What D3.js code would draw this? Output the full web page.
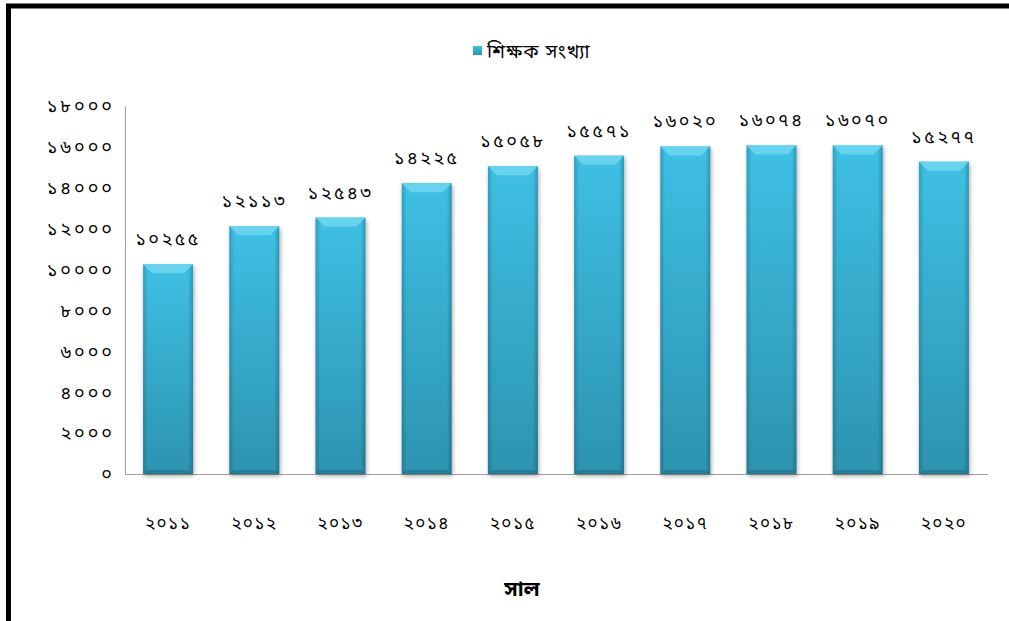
<!DOCTYPE html>
<html><head><meta charset="utf-8">
<script src="https://cdn.jsdelivr.net/npm/d3@7"></script>
<style>
html,body{margin:0;padding:0;background:#fff;}
svg{display:block;font-family:"Noto Sans Bengali","Noto Sans","Lohit Bengali",sans-serif;}
</style></head>
<body>
<svg id="chart" width="1009" height="621"></svg>
<script>
const years = ["২০১১","২০১২","২০১৩","২০১৪","২০১৫","২০১৬","২০১৭","২০১৮","২০১৯","২০২০"];
const teachers = [10255, 12113, 12543, 14225, 15058, 15571, 16020, 16074, 16070, 15277];
const valueLabels = ["১০২৫৫","১২১১৩","১২৫৪৩","১৪২২৫","১৫০৫৮","১৫৫৭১","১৬০২০","১৬০৭৪","১৬০৭০","১৫২৭৭"];
const yTicks = [0,2000,4000,6000,8000,10000,12000,14000,16000,18000];
const yTickLabels = ["০","২০০০","৪০০০","৬০০০","৮০০০","১০০০০","১২০০০","১৪০০০","১৬০০০","১৮০০০"];
const seriesName = "শিক্ষক সংখ্যা";
const xTitle = "সাল";

const svg = d3.select("#chart");
const defs = svg.append("defs");
const g1 = defs.append("linearGradient").attr("id","barV").attr("x1",0).attr("y1",0).attr("x2",0).attr("y2",1);
g1.append("stop").attr("offset","0%").attr("stop-color","#3ec0e4");
g1.append("stop").attr("offset","100%").attr("stop-color","#2d93b0");
const g2 = defs.append("linearGradient").attr("id","barH").attr("x1",0).attr("y1",0).attr("x2",1).attr("y2",0);
g2.append("stop").attr("offset","0%").attr("stop-color","#000").attr("stop-opacity",0.18);
g2.append("stop").attr("offset","10%").attr("stop-color","#000").attr("stop-opacity",0);
g2.append("stop").attr("offset","90%").attr("stop-color","#000").attr("stop-opacity",0);
g2.append("stop").attr("offset","100%").attr("stop-color","#000").attr("stop-opacity",0.22);
const f = defs.append("filter").attr("id","shadow").attr("x","-20%").attr("y","-5%").attr("width","140%").attr("height","115%");
f.append("feDropShadow").attr("dx",1).attr("dy",2).attr("stdDeviation",2).attr("flood-color","#000").attr("flood-opacity",0.35);

// frame
svg.append("rect").attr("x",8.5).attr("y",6).attr("width",1010).attr("height",630)
  .attr("fill","none").attr("stroke","#000").attr("stroke-width",5);

const x = d3.scaleBand().domain(years).range([125,987]).paddingInner(0.42).paddingOuter(0.21);
const y = d3.scaleLinear().domain([0,18000]).range([474,106]);

// axes lines
svg.append("line").attr("x1",125.5).attr("x2",125.5).attr("y1",y(18000)).attr("y2",y(0)).attr("stroke","#a0a0a0");
svg.append("line").attr("x1",125).attr("x2",988).attr("y1",y(0)+0.5).attr("y2",y(0)+0.5).attr("stroke","#a0a0a0");

// y tick labels
svg.append("g").selectAll("text").data(yTicks).join("text")
  .attr("x",115).attr("y",d=>y(d)).attr("dy","0.35em").attr("text-anchor","end")
  .attr("font-size",18).attr("letter-spacing",3).attr("fill","#000").text((d,i)=>yTickLabels[i]);

// bars
const bars = svg.append("g").selectAll("g").data(teachers).join("g");
bars.append("rect").attr("x",(d,i)=>x(years[i])).attr("y",d=>y(d))
  .attr("width",x.bandwidth()).attr("height",d=>y(0)-y(d))
  .attr("fill","url(#barV)").attr("filter","url(#shadow)");
bars.append("rect").attr("x",(d,i)=>x(years[i])).attr("y",d=>y(d))
  .attr("width",x.bandwidth()).attr("height",d=>y(0)-y(d))
  .attr("fill","url(#barH)");
// top bevel
bars.append("path").attr("d",(d,i)=>{
  const x0=x(years[i]), w=x.bandwidth(), t=y(d), b=9;
  return `M${x0},${t}L${x0+w},${t}L${x0+w-b},${t+b}L${x0+b},${t+b}Z`;
}).attr("fill","#6fd6f0").attr("opacity",0.85);
// bottom dark edge
bars.append("path").attr("d",(d,i)=>{
  const x0=x(years[i]), w=x.bandwidth(), bt=y(0), b=4;
  return `M${x0},${bt}L${x0+w},${bt}L${x0+w-b},${bt-b}L${x0+b},${bt-b}Z`;
}).attr("fill","#1f6f86").attr("opacity",0.6);

// value labels
svg.append("g").selectAll("text").data(teachers).join("text")
  .attr("x",(d,i)=>x(years[i])+x.bandwidth()/2).attr("y",d=>y(d)-19)
  .attr("text-anchor","middle").attr("font-size",18).attr("letter-spacing",2.5).attr("fill","#000")
  .text((d,i)=>valueLabels[i]);

// x labels
svg.append("g").selectAll("text").data(years).join("text")
  .attr("x",d=>x(d)+x.bandwidth()/2).attr("y",523).attr("dy","0.35em")
  .attr("text-anchor","middle").attr("font-size",17).attr("letter-spacing",1.5).attr("fill","#000").text(d=>d);

// x title
svg.append("text").attr("x",522).attr("y",589).attr("dy","0.35em").attr("text-anchor","middle")
  .attr("font-size",21).attr("font-weight","bold").attr("fill","#000").text(xTitle);

// legend
svg.append("rect").attr("x",473).attr("y",46).attr("width",9).attr("height",9).attr("fill","url(#barV)");
svg.append("text").attr("x",487).attr("y",51).attr("dy","0.35em").attr("font-size",19).attr("letter-spacing",1).attr("fill","#000").text(seriesName);
</script>
</body></html>
